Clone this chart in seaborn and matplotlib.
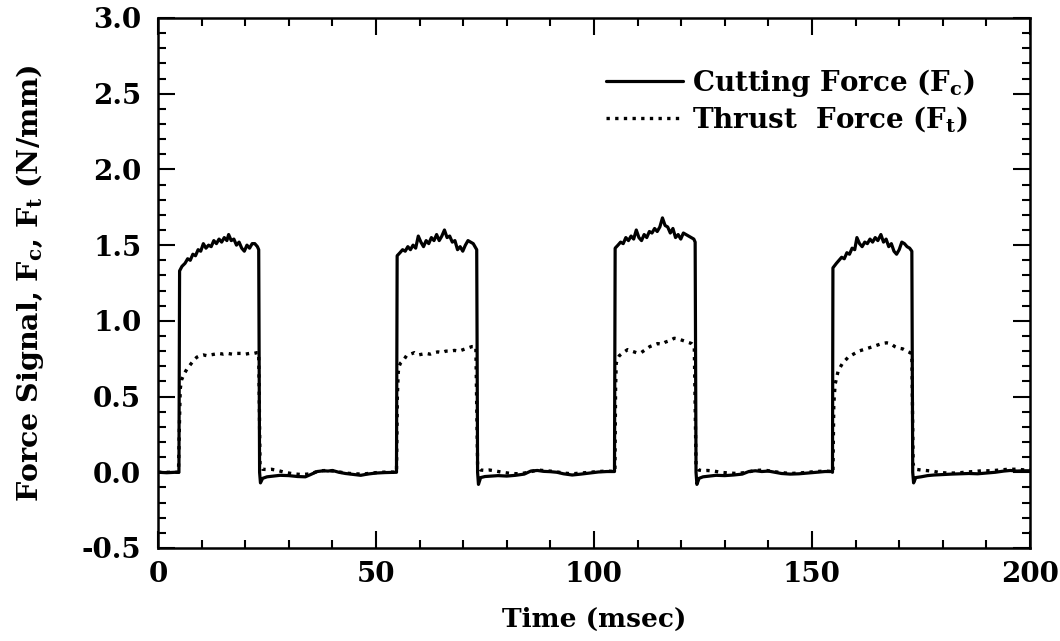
import matplotlib
matplotlib.use("Agg")
import matplotlib.pyplot as plt
import seaborn as sns
import pandas as pd
from matplotlib.ticker import MultipleLocator, FormatStrFormatter

# ---------------- data ----------------
time_fc = [
    0.0, 2.0, 4.0, 4.8,
    4.95, 5.5, 6.2, 6.8, 7.4, 8.0, 8.6, 9.2, 9.8, 10.4, 11.0, 11.6, 12.2, 12.8,
    13.4, 14.0, 14.6, 15.2, 15.8, 16.2, 16.8, 17.4, 18.0, 18.6, 19.2, 19.8, 20.4,
    21.0, 21.6, 22.2, 22.8, 23.1,
    23.3, 23.5, 24.0, 25.0, 26.5, 28.0, 30.0, 32.0, 33.8, 35.0, 36.5, 38.0, 39.0,
    40.0, 41.5, 43.0, 45.0, 46.5, 48.0, 50.0, 52.0, 54.0, 54.7,
    54.85, 55.5, 56.1, 56.7, 57.3, 57.9, 58.5, 59.1, 59.7, 60.3, 60.9, 61.5, 62.1,
    62.7, 63.3, 63.9, 64.5, 65.1, 65.7, 66.3, 66.9, 67.5, 68.1, 68.7, 69.3, 69.9,
    70.5, 71.1, 71.7, 72.3, 72.9, 73.1,
    73.3, 73.5, 74.0, 75.0, 76.5, 78.0, 80.0, 82.0, 84.0, 85.5, 87.0, 88.5, 90.0,
    91.5, 93.0, 95.0, 97.0, 99.0, 101.0, 103.0, 104.7,
    104.85, 105.5, 106.1, 106.7, 107.3, 107.9, 108.5, 109.1, 109.7, 110.3, 110.9,
    111.5, 112.1, 112.7, 113.3, 113.9, 114.5, 115.1, 115.7, 116.3, 116.9, 117.5,
    118.1, 118.7, 119.3, 119.9, 120.5, 121.1, 121.7, 122.3, 122.9, 123.2,
    123.4, 123.6, 124.1, 125.0, 126.5, 128.0, 130.0, 132.0, 134.0, 135.5, 137.0,
    138.5, 140.0, 141.5, 143.0, 145.0, 147.0, 149.0, 151.0, 153.0, 154.6,
    154.7, 154.8, 155.6, 156.2, 156.8, 157.4, 158.0, 158.6, 159.2, 159.8, 160.3, 160.9,
    161.5, 162.1, 162.7, 163.3, 163.9, 164.5, 165.1, 165.8, 166.4, 167.0, 167.6,
    168.2, 168.8, 169.4, 170.0, 170.6, 171.2, 171.8, 172.4, 172.9,
    173.1, 173.3, 173.8, 175.0, 176.5, 178.0, 180.0, 182.0, 184.0, 186.0, 188.0,
    190.0, 192.0, 194.0, 195.5, 197.0, 198.5, 200.0,
]
cutting_force = [
    0.0, -0.003, 0.0, 0.0,
    1.33, 1.36, 1.38, 1.41, 1.40, 1.44, 1.43, 1.47, 1.46, 1.51, 1.48, 1.50, 1.49, 1.53,
    1.51, 1.54, 1.52, 1.55, 1.53, 1.57, 1.53, 1.54, 1.50, 1.52, 1.48, 1.46, 1.50,
    1.48, 1.51, 1.51, 1.49, 1.47,
    0.0, -0.07, -0.04, -0.03, -0.025, -0.02, -0.022, -0.028, -0.03, -0.015, 0.005, 0.01, 0.008,
    0.012, 0.0, -0.008, -0.015, -0.02, -0.012, -0.005, -0.002, 0.0, 0.0,
    1.43, 1.45, 1.47, 1.46, 1.49, 1.47, 1.50, 1.48, 1.56, 1.52, 1.49, 1.53, 1.51,
    1.55, 1.53, 1.57, 1.53, 1.56, 1.60, 1.55, 1.56, 1.52, 1.53, 1.47, 1.49, 1.46,
    1.50, 1.53, 1.52, 1.51, 1.48, 1.47,
    0.0, -0.08, -0.035, -0.028, -0.025, -0.022, -0.025, -0.02, -0.012, 0.008, 0.012, 0.006, 0.004,
    0.0, -0.01, -0.018, -0.012, -0.005, 0.002, 0.005, 0.005,
    1.48, 1.50, 1.52, 1.51, 1.55, 1.53, 1.56, 1.54, 1.60, 1.55, 1.53,
    1.57, 1.55, 1.59, 1.58, 1.61, 1.59, 1.62, 1.68, 1.63, 1.62, 1.58,
    1.61, 1.55, 1.57, 1.54, 1.58, 1.57, 1.56, 1.55, 1.54, 1.52,
    0.0, -0.08, -0.04, -0.03, -0.025, -0.02, -0.022, -0.018, -0.012, 0.005, 0.01, 0.005,
    0.008, 0.0, -0.008, -0.012, -0.01, -0.005, 0.0, 0.005, 0.005,
    0.0, 1.35, 1.38, 1.40, 1.42, 1.41, 1.45, 1.44, 1.48, 1.47, 1.55, 1.51,
    1.49, 1.52, 1.51, 1.54, 1.52, 1.55, 1.53, 1.57, 1.52, 1.54, 1.49,
    1.51, 1.46, 1.44, 1.47, 1.52, 1.51, 1.49, 1.48, 1.46,
    0.0, -0.07, -0.035, -0.03, -0.022, -0.018, -0.015, -0.012, -0.01, -0.008, -0.01,
    -0.005, 0.0, 0.008, 0.012, 0.008, 0.01, 0.01,
]

time_ft = [
    0.0, 2.0, 4.7,
    4.9, 5.1, 5.4, 6.0, 6.6, 7.4, 8.2, 8.9, 9.6, 10.4, 11.2, 12.0, 13.0, 14.0, 15.0,
    16.0, 17.0, 18.0, 19.0, 20.0, 21.0, 22.0, 22.7, 23.1,
    23.4, 24.0, 25.0, 26.0, 27.5, 29.0, 31.0, 33.0, 35.0, 37.0, 39.0, 41.0, 43.0,
    45.0, 47.0, 49.0, 51.0, 53.0, 54.7,
    54.9, 55.1, 55.3, 55.6, 56.3, 57.0, 57.9, 58.8, 59.7, 60.6, 61.5, 62.4, 63.3,
    64.2, 65.1, 66.0, 67.0, 68.0, 69.0, 70.0, 71.0, 72.0, 72.9,
    73.3, 74.0, 75.0, 76.0, 77.5, 79.0, 81.0, 83.0, 85.0, 87.0, 89.0, 91.0, 93.0,
    95.0, 97.0, 99.0, 101.0, 103.0, 104.8,
    104.95, 105.1, 105.4, 105.8, 106.7, 107.7, 108.7, 109.7, 110.8, 111.8, 112.8,
    113.7, 114.6, 115.5, 116.4, 117.4, 118.4, 119.4, 120.4, 121.4, 122.4, 123.0,
    123.4, 124.0, 125.0, 126.0, 127.5, 129.0, 131.0, 133.0, 135.0, 137.0, 139.0,
    141.0, 143.0, 145.0, 147.0, 149.0, 151.0, 153.0, 154.6,
    154.8, 155.0, 155.3, 155.6, 156.0, 157.0, 158.3, 159.5, 160.7, 161.8, 162.9,
    164.0, 165.0, 166.0, 167.1, 168.0, 169.0, 169.8, 170.8, 171.7, 172.5, 172.9,
    173.2, 173.8, 175.0, 176.0, 177.5, 179.0, 181.0, 183.0, 185.0, 187.0, 189.0,
    191.0, 193.0, 195.0, 197.0, 199.0, 200.0,
]
thrust_force = [
    0.0, 0.0, 0.0,
    0.30, 0.55, 0.61, 0.65, 0.68, 0.71, 0.74, 0.76, 0.77, 0.775, 0.77, 0.775, 0.78, 0.785, 0.78,
    0.785, 0.78, 0.785, 0.785, 0.78, 0.785, 0.785, 0.79, 0.79,
    0.05, 0.02, 0.018, 0.02, 0.012, 0.0, -0.01, -0.015, -0.01, 0.01, 0.012, 0.005, -0.005,
    -0.01, -0.012, -0.005, 0.0, 0.002, 0.0,
    0.50, 0.66, 0.70, 0.72, 0.74, 0.77, 0.78, 0.79, 0.775, 0.78, 0.785, 0.78, 0.79,
    0.795, 0.79, 0.80, 0.80, 0.805, 0.80, 0.81, 0.82, 0.83, 0.83,
    0.05, 0.015, 0.012, 0.015, 0.008, 0.0, -0.008, -0.01, 0.0, 0.015, 0.01, 0.005, -0.005,
    -0.01, -0.005, 0.0, 0.005, 0.008, 0.005,
    0.55, 0.72, 0.75, 0.77, 0.79, 0.81, 0.80, 0.79, 0.79, 0.81, 0.83,
    0.84, 0.85, 0.845, 0.86, 0.87, 0.885, 0.88, 0.87, 0.86, 0.85, 0.83,
    0.05, 0.015, 0.01, 0.012, 0.008, 0.0, -0.005, -0.008, 0.0, 0.012, 0.015, 0.005, -0.002,
    -0.008, -0.005, 0.0, 0.005, 0.008, 0.005,
    0.0, 0.45, 0.58, 0.62, 0.67, 0.72, 0.76, 0.78, 0.80, 0.81, 0.82,
    0.83, 0.84, 0.85, 0.855, 0.85, 0.83, 0.82, 0.815, 0.80, 0.79, 0.78,
    0.05, 0.02, 0.015, 0.012, 0.008, 0.0, -0.005, -0.005, 0.0, 0.005, 0.01,
    0.01, 0.015, 0.02, 0.02, 0.015, 0.015,
]

x_ticks = [0, 50, 100, 150, 200]
y_ticks = [-0.5, 0.0, 0.5, 1.0, 1.5, 2.0, 2.5, 3.0]
label_fc = "Cutting Force (F$_{c}$)"
label_ft = "Thrust  Force (F$_{t}$)"

# ---------------- style ----------------
sns.set_theme(style="ticks")
plt.rcParams.update({
    "font.family": ["DejaVu Serif"],
    "font.weight": "bold",
    "axes.labelweight": "bold",
    "mathtext.fontset": "dejavuserif",
    "mathtext.default": "bf",
    "axes.unicode_minus": False,
    "axes.linewidth": 1.8,
    "axes.edgecolor": "black",
    "text.color": "black",
    "axes.labelcolor": "black",
    "xtick.color": "black",
    "ytick.color": "black",
})

fig = plt.figure(figsize=(10.6, 6.41), dpi=100)
ax = fig.add_axes([158 / 1060, 1 - 548 / 641, (1030 - 158) / 1060, (548 - 18) / 641])

df_fc = pd.DataFrame({"t": time_fc, "f": cutting_force})
df_ft = pd.DataFrame({"t": time_ft, "f": thrust_force})

sns.lineplot(data=df_ft, x="t", y="f", ax=ax, estimator=None, sort=False,
             color="black", linewidth=2.4, linestyle=(0, (1.0, 1.6)), label=label_ft)
sns.lineplot(data=df_fc, x="t", y="f", ax=ax, estimator=None, sort=False,
             color="black", linewidth=2.3, label=label_fc)

ax.set_xlim(0, 200)
ax.set_ylim(-0.5, 3.0)
ax.set_xticks(x_ticks)
ax.set_yticks(y_ticks)
ax.xaxis.set_minor_locator(MultipleLocator(10))
ax.yaxis.set_minor_locator(MultipleLocator(0.1))
ax.yaxis.set_major_formatter(FormatStrFormatter("%.1f"))
ax.tick_params(which="both", direction="in", top=True, right=True, width=1.5, colors="black")
ax.tick_params(which="major", length=12, labelsize=20)
ax.tick_params(axis="x", which="major", pad=9)
ax.tick_params(axis="y", which="major", pad=12)
ax.tick_params(which="minor", length=6)
for lab in ax.get_xticklabels() + ax.get_yticklabels():
    lab.set_fontweight("bold")

ax.set_xlabel("Time (msec)", fontsize=19, fontweight="bold", labelpad=14)
ax.set_ylabel("Force Signal, F$_{c}$, F$_{t}$ (N/mm)", fontsize=20.5, fontweight="bold", labelpad=26)

handles, labels = ax.get_legend_handles_labels()
order = [labels.index(label_fc), labels.index(label_ft)]
ax.legend([handles[i] for i in order], [labels[i] for i in order],
          loc="upper right", bbox_to_anchor=(0.965, 0.955), frameon=False,
          handlelength=2.8, handletextpad=0.3, labelspacing=0.2,
          prop={"weight": "bold", "size": 20})

fig.savefig("out.png", dpi=100, facecolor="white")
